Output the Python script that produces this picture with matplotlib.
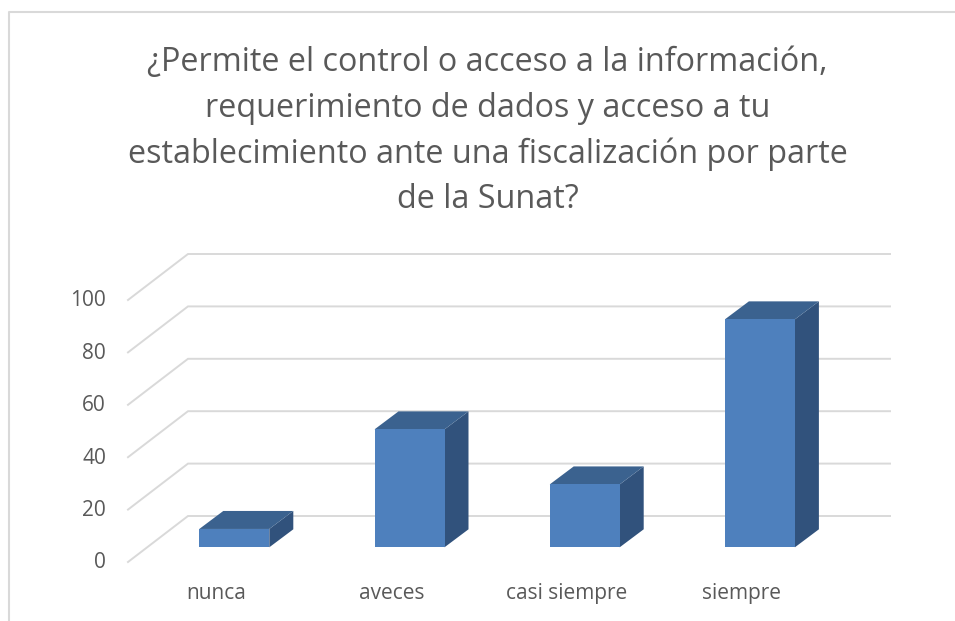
import matplotlib
matplotlib.use('Agg')
import matplotlib.pyplot as plt
from matplotlib.patches import Polygon

categories = ['nunca', 'aveces', 'casi siempre', 'siempre']
values = [7, 45, 24, 87]
ticks = [0, 20, 40, 60, 80, 100]
title_lines = ['¿Permite el control o acceso a la información,',
               'requerimiento de dados y acceso a tu',
               'establecimiento ante una fiscalización por parte',
               'de la Sunat?']

W, H = 955, 621
plt.rcParams['font.family'] = 'Open Sans'

fig = plt.figure(figsize=(W / 100, H / 100), dpi=100, facecolor='white')
ax = fig.add_axes([0, 0, 1, 1])

# data scale: one category = 175.2 px, one value unit = 2.62 px
px_x = 175.2
px_y = 2.62
ax.set_xlim(-234.3 / px_x, (W - 234.3) / px_x)
ax.set_ylim((547.3 - H) / px_y, 547.3 / px_y)
ax.axis('off')

grid_col = '#d9d9d9'
text_col = '#595959'

# depth of the box and of the bars, in data units
wall_dx, wall_dy = 60 / px_x, 46 / px_y
floor_dy = -14.7 / px_y
bar_w = 70 / px_x
bar_dx, bar_dy = 24 / px_x, 18 / px_y
left = (128 - 234.3) / px_x
right = (890 - 234.3) / px_x

for t in ticks:
    y0 = t + floor_dy
    ax.plot([left, left + wall_dx, right], [y0, y0 + wall_dy, y0 + wall_dy],
            color=grid_col, lw=1.4, solid_joinstyle='miter', zorder=1)
    ax.annotate(str(t), (left, y0), xytext=(-22, -1), textcoords='offset pixels',
                ha='right', va='center', fontsize=15, color=text_col)

for i, v in enumerate(values):
    x0 = i - bar_w / 2
    x1 = i + bar_w / 2
    front = [(x0, 0), (x1, 0), (x1, v), (x0, v)]
    top = [(x0, v), (x1, v), (x1 + bar_dx, v + bar_dy), (x0 + bar_dx, v + bar_dy)]
    side = [(x1, 0), (x1 + bar_dx, bar_dy), (x1 + bar_dx, v + bar_dy), (x1, v)]
    ax.add_patch(Polygon(side, closed=True, fc='#31527c', ec='none', zorder=3))
    ax.add_patch(Polygon(top, closed=True, fc='#3b628f', ec='none', zorder=3))
    ax.add_patch(Polygon(front, closed=True, fc='#4e80bd', ec='none', zorder=4))
    ax.annotate(categories[i], (i, 0), xytext=(-18, -46), textcoords='offset pixels',
                ha='center', va='center', fontsize=15, color=text_col)

# outer frame of the chart area, only top and left are visible
fig.add_artist(plt.Line2D([8.8 / W, 8.8 / W, 1], [0, 1 - 12 / H, 1 - 12 / H],
                          color=grid_col, lw=1.5))

for n, line in enumerate(title_lines):
    fig.text(487.5 / W, 1 - (62.5 + n * 45.7) / H, line, ha='center', va='center',
             fontsize=23.3, color=text_col)

fig.savefig('out.png', dpi=100)
